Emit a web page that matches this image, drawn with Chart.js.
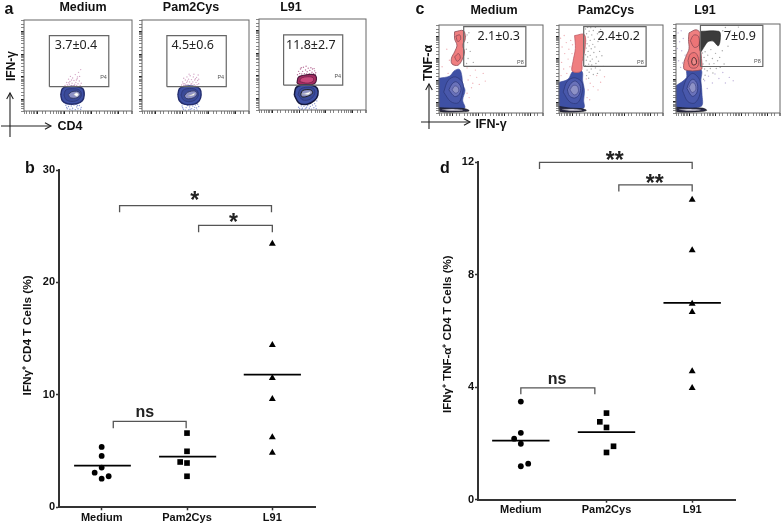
<!DOCTYPE html>
<html>
<head>
<meta charset="utf-8">
<title>IFN-γ and TNF-α CD4 T cells</title>
<script src="https://cdn.jsdelivr.net/npm/chart.js@4/dist/chart.umd.min.js"></script>
<style>
  html, body { margin: 0; padding: 0; background: #fff; }
  body { position: relative; width: 784px; height: 525px; overflow: hidden; font-family: "Liberation Sans", Arial, sans-serif; color: #111; }
  canvas { position: absolute; filter: blur(0.3px); }
  canvas.flow { filter: blur(0.45px); }
  .txt { position: absolute; font-weight: bold; white-space: nowrap; transform: translate(-50%, -50%); }
  .rot { transform: translate(-50%, -50%) rotate(-90deg); }
  svg { position: absolute; left: 0; top: 0; }
</style>
</head>
<body>
<canvas id="flowA1" class="flow" style="left:19px;top:16px" width="117" height="101"></canvas>
<canvas id="flowA2" class="flow" style="left:137px;top:16px" width="116" height="101"></canvas>
<canvas id="flowA3" class="flow" style="left:254px;top:15px" width="116" height="101"></canvas>
<canvas id="flowC1" class="flow" style="left:434px;top:21px" width="113" height="98"></canvas>
<canvas id="flowC2" class="flow" style="left:554px;top:21px" width="113" height="98"></canvas>
<canvas id="flowC3" class="flow" style="left:671px;top:20px" width="113" height="99"></canvas>
<canvas id="chartB" style="left:0;top:150px" width="330" height="375"></canvas>
<canvas id="chartD" style="left:420px;top:140px" width="330" height="385"></canvas>

<svg width="784" height="150">
  <defs>
    <marker id="head" markerWidth="8" markerHeight="8" refX="6" refY="3.5" orient="auto">
      <path d="M0.5,0.5 L6,3.5 L0.5,6.5" fill="none" stroke="#222" stroke-width="1"/>
    </marker>
  </defs>
  <g stroke="#222" stroke-width="1.1" fill="none">
    <line x1="1" y1="126" x2="51" y2="126" marker-end="url(#head)"/>
    <line x1="10" y1="137" x2="10" y2="93" marker-end="url(#head)"/>
    <line x1="421" y1="122" x2="470" y2="122" marker-end="url(#head)"/>
    <line x1="429" y1="129" x2="429" y2="84" marker-end="url(#head)"/>
  </g>
</svg>

<div class="txt" style="left:9px;top:9px;font-size:16px">a</div>
<div class="txt" style="left:30px;top:168px;font-size:16px">b</div>
<div class="txt" style="left:420px;top:9px;font-size:16px">c</div>
<div class="txt" style="left:445px;top:168px;font-size:16px">d</div>

<div class="txt" style="left:83px;top:7px;font-size:12.5px">Medium</div>
<div class="txt" style="left:191px;top:7px;font-size:12.5px">Pam2Cys</div>
<div class="txt" style="left:291px;top:7px;font-size:12.5px">L91</div>
<div class="txt" style="left:494px;top:10px;font-size:12.5px">Medium</div>
<div class="txt" style="left:606px;top:10px;font-size:12.5px">Pam2Cys</div>
<div class="txt" style="left:705px;top:10px;font-size:12.5px">L91</div>

<div class="txt" style="left:70px;top:126px;font-size:12.5px">CD4</div>
<div class="txt rot" style="left:11px;top:66px;font-size:12px">IFN-γ</div>
<div class="txt" style="left:491px;top:124px;font-size:12.5px">IFN-γ</div>
<div class="txt rot" style="left:428px;top:63px;font-size:12.5px">TNF-α</div>

<script>
const FONT = '"Liberation Sans", Arial, sans-serif';

/* ---- dot plots b and d ---- */
const categories = ["Medium", "Pam2Cys", "L91"];
const categoryPos = [1, 2, 3];

const mediumXB = [1, 1, 1, 0.918, 1.082, 1];
const mediumB = [5.37, 4.57, 3.53, 3.08, 2.76, 2.55];
const pamXB = [2, 2, 2, 1.92, 2];
const pamB = [6.6, 4.98, 3.94, 4.03, 2.76];
const l91XB = [3, 3, 3, 3, 3, 3];
const l91B = [23.45, 14.44, 11.5, 9.63, 6.23, 4.86];
const meansB = [3.7, 4.5, 11.8];
const meanSpansB = [[0.677, 1.342], [1.673, 2.342], [2.665, 3.335]];
const bracketsB = [
    { x: [1.21, 1.21, 2.99, 2.99], y: [26.24, 26.83, 26.83, 26.24] },
    { x: [2.136, 2.136, 3, 3], y: [24.46, 25.08, 25.08, 24.46] },
    { x: [1.136, 1.136, 1.99, 1.99], y: [7.03, 7.65, 7.65, 7.03] }
];
const notesB = [
    { text: "*", x: 2.09, y: 27.75, size: 23 },
    { text: "*", x: 2.545, y: 25.75, size: 23 },
    { text: "ns", x: 1.506, y: 8.45, size: 16 }
];

const mediumXD = [1, 1, 0.922, 1, 1.086, 1];
const mediumD = [3.49, 2.38, 2.17, 1.99, 1.28, 1.19];
const pamXD = [2, 1.922, 2, 2.082, 2];
const pamD = [3.08, 2.77, 2.57, 1.9, 1.68];
const l91XD = [3, 3, 3, 3, 3, 3];
const l91D = [10.67, 8.87, 6.97, 6.68, 4.57, 3.97];
const meansD = [2.1, 2.4, 7.0];
const meanSpansD = [[0.665, 1.335], [1.665, 2.335], [2.665, 3.335]];
const bracketsD = [
    { x: [1.218, 1.218, 3, 3], y: [11.76, 12, 12, 11.76] },
    { x: [2.144, 2.144, 3, 3], y: [10.96, 11.2, 11.2, 10.96] },
    { x: [1, 1, 1.864, 1.864], y: [3.75, 3.98, 3.98, 3.75] }
];
const notesD = [
    { text: "**", x: 2.097, y: 12.24, size: 23 },
    { text: "**", x: 2.564, y: 11.42, size: 23 },
    { text: "ns", x: 1.424, y: 4.27, size: 16 }
];

const zip = (xs, ys) => xs.map((x, i) => ({ x: x, y: ys[i] }));

/* draws a text centred by its ink on a data position */
function inkText(chart, note, font, color) {
    const ctx = chart.ctx;
    const px = chart.scales.x.getPixelForValue(note.x);
    const py = chart.scales.y.getPixelForValue(note.y);
    ctx.save();
    ctx.font = font;
    ctx.fillStyle = color;
    ctx.textAlign = note.align || "center";
    ctx.textBaseline = "alphabetic";
    const m = ctx.measureText(note.text);
    ctx.fillText(note.text, px, py + (m.actualBoundingBoxAscent - m.actualBoundingBoxDescent) / 2);
    ctx.restore();
}

function dotChart(id, cfg) {
    const marks = [["circle", 2.9, cfg.medium], ["rect", 4, cfg.pam], ["triangle", 4, cfg.l91]];
    const datasets = marks.map(m => ({
        data: m[2], pointStyle: m[0], pointRadius: m[1], pointBackgroundColor: "#000",
        pointBorderWidth: 0, showLine: false, clip: false
    }));
    cfg.means.forEach((v, i) => datasets.push({
        data: zip(cfg.spans[i], [v, v]), showLine: true, borderColor: "#000", borderWidth: 1.8,
        pointRadius: 0, clip: false
    }));
    cfg.brackets.forEach(b => datasets.push({
        data: zip(b.x, b.y), showLine: true, borderColor: "#555", borderWidth: 1.3,
        pointRadius: 0, clip: false
    }));
    return new Chart(document.getElementById(id), {
        type: "scatter",
        data: { datasets: datasets },
        plugins: [{
            id: "notes",
            afterDatasetsDraw(chart) {
                cfg.notes.forEach(n => inkText(chart, n, "bold " + n.size + "px " + FONT, "#222"));
            }
        }],
        options: {
            responsive: false,
            animation: false,
            layout: { padding: cfg.padding },
            plugins: { legend: { display: false }, tooltip: { enabled: false } },
            scales: {
                x: {
                    type: "linear", min: 0.5, max: 3.5,
                    afterBuildTicks: s => { s.ticks = categoryPos.map(v => ({ value: v })); },
                    afterFit: s => { s.height = cfg.bottom; },
                    ticks: {
                        autoSkip: false, padding: 1, maxRotation: 0, color: "#111",
                        font: { family: FONT, size: 11, weight: "bold" },
                        callback: v => categories[v - 1]
                    },
                    border: { color: "#333", width: 2 },
                    grid: { drawOnChartArea: false, tickLength: 3, tickColor: "#333", tickWidth: 1.5 }
                },
                y: {
                    min: 0, max: cfg.max,
                    afterFit: s => { s.width = cfg.left; },
                    ticks: {
                        stepSize: cfg.step, padding: 1, color: "#111",
                        font: { family: FONT, size: 11, weight: "bold" }
                    },
                    border: { color: "#333", width: 2 },
                    grid: { drawOnChartArea: false, tickLength: 3, tickColor: "#333", tickWidth: 1.5 },
                    title: {
                        display: true, text: cfg.title, color: "#111",
                        padding: { top: 21, bottom: 0 },
                        font: { family: FONT, size: cfg.titleSize, weight: "bold" }
                    }
                }
            }
        }
    });
}

dotChart("chartB", {
    medium: zip(mediumXB, mediumB), pam: zip(pamXB, pamB), l91: zip(l91XB, l91B),
    means: meansB, spans: meanSpansB, brackets: bracketsB, notes: notesB,
    max: 30, step: 10, left: 59, bottom: 17.7,
    padding: { top: 20, right: 15, left: 0, bottom: 0 },
    titleSize: 11.8,
    title: "\u00a0\u00a0IFNγ⁺ CD4 T Cells (%)"
});

dotChart("chartD", {
    medium: zip(mediumXD, mediumD), pam: zip(pamXD, pamD), l91: zip(l91XD, l91D),
    means: meansD, spans: meanSpansD, brackets: bracketsD, notes: notesD,
    max: 12, step: 4, left: 58, bottom: 25.3,
    padding: { top: 22.3, right: 15, left: 0, bottom: 0 },
    titleSize: 11.5,
    title: "IFNγ⁺ TNF-α⁺ CD4 T Cells (%)\u00a0\u00a0"
});

/* ---- flow panels, all outlines and dots in log10 units [x, y] ---- */
const A_PINK = "#d4a6c6", A_BLUE = "#8c9ad6", C_PINK = "#efb4ba", C_GREY = "#a8a8a8", C_LILAC = "#c2b6dc";
const NAVY = "#232d6e", BLUE = "#3e50a4", LILAC = "#8e92c6", RING = "#2f3a7c";
const SALMON = "#ef7f80", SALMON_LINE = "#8c4a55", DARK = "#3b3b3b";

/* a: Medium */
const a1Gate = [[2.44, 2.57], [2.44, 4.81], [4.64, 4.81], [4.64, 2.57], [2.44, 2.57]];
const a1Pink = [[3.02, 2.62], [3.08, 2.75], [3.12, 2.6], [3.15, 2.9], [3.18, 2.68], [3.2, 2.8], [3.22, 3.02], [3.25, 2.62], [3.28, 2.72], [3.3, 2.95], [3.32, 2.6], [3.35, 2.84], [3.38, 2.68], [3.4, 3.1], [3.42, 2.76], [3.45, 2.62], [3.47, 2.92], [3.5, 2.7], [3.52, 3.2], [3.55, 2.82], [3.58, 2.62], [3.6, 3.32], [3.62, 2.72], [3.48, 3.0], [3.1, 2.66], [3.26, 2.86], [3.36, 2.62], [3.44, 2.86], [3.56, 3.02], [3.16, 2.74]];
const a1Blue = [[3.05, 1.75], [3.1, 1.6], [3.15, 1.7], [3.2, 1.58], [3.25, 1.72], [3.3, 1.62], [3.35, 1.76], [3.4, 1.56], [3.45, 1.68], [3.5, 1.6], [3.55, 1.74], [3.6, 1.58], [3.62, 1.66], [3.18, 1.8], [3.42, 1.8], [3.28, 1.54], [3.08, 1.66], [3.48, 1.74]];
const a1Outer = [[2.86, 2.2], [2.92, 2.48], [3.1, 2.57], [3.45, 2.57], [3.68, 2.48], [3.73, 2.2], [3.66, 1.95], [3.45, 1.82], [3.1, 1.82], [2.92, 1.95], [2.86, 2.2]];
const a1Mid = [[2.98, 2.2], [3.05, 2.42], [3.3, 2.48], [3.55, 2.42], [3.63, 2.22], [3.52, 2.0], [3.28, 1.92], [3.06, 2.0], [2.98, 2.2]];
const a1Core = [[3.14, 2.22], [3.26, 2.34], [3.5, 2.36], [3.58, 2.22], [3.46, 2.08], [3.22, 2.08], [3.14, 2.22]];
const a1Eye = [[3.34, 2.22], [3.44, 2.3], [3.52, 2.24], [3.46, 2.14], [3.34, 2.22]];

/* a: Pam2Cys */
const a2Gate = [[2.43, 2.57], [2.43, 4.81], [4.65, 4.81], [4.65, 2.57], [2.43, 2.57]];
const a2Pink = [[2.98, 2.64], [3.02, 2.78], [3.06, 2.62], [3.06, 2.94], [3.1, 2.7], [3.12, 2.86], [3.14, 2.6], [3.17, 2.76], [3.18, 3.0], [3.22, 2.66], [3.24, 2.9], [3.27, 2.58], [3.28, 2.78], [3.3, 3.05], [3.33, 2.68], [3.35, 2.88], [3.38, 2.6], [3.4, 2.78], [3.42, 3.0], [3.45, 2.66], [3.47, 2.86], [3.5, 2.6], [3.52, 2.76], [3.54, 2.98], [3.56, 2.66], [3.58, 2.84], [3.6, 3.08], [3.62, 2.7], [3.04, 2.7], [3.2, 2.82], [3.36, 2.7], [3.44, 3.12], [3.26, 3.12], [3.5, 2.92], [3.14, 2.66], [3.56, 2.58], [3.62, 2.9]];
const a2Blue = [[3.0, 1.72], [3.05, 1.58], [3.1, 1.8], [3.15, 1.65], [3.2, 1.74], [3.24, 1.55], [3.28, 1.68], [3.33, 1.8], [3.36, 1.6], [3.4, 1.72], [3.45, 1.56], [3.5, 1.76], [3.54, 1.63], [3.58, 1.8], [3.62, 1.7], [3.12, 1.54], [3.47, 1.66], [3.02, 1.64], [3.3, 1.58], [3.56, 1.54]];
const a2Outer = [[2.84, 2.2], [2.9, 2.48], [3.08, 2.58], [3.45, 2.58], [3.66, 2.48], [3.71, 2.2], [3.64, 1.95], [3.45, 1.8], [3.08, 1.8], [2.9, 1.95], [2.84, 2.2]];
const a2Mid = [[2.96, 2.2], [3.04, 2.42], [3.28, 2.49], [3.53, 2.43], [3.61, 2.22], [3.5, 2.0], [3.25, 1.91], [3.04, 2.0], [2.96, 2.2]];
const a2Core = [[3.08, 2.16], [3.2, 2.32], [3.48, 2.38], [3.56, 2.24], [3.42, 2.08], [3.18, 2.04], [3.08, 2.16]];
const a2Eye = [[3.22, 2.16], [3.38, 2.24], [3.48, 2.28], [3.42, 2.18], [3.22, 2.16]];

/* a: L91 */
const a3Gate = [[2.42, 2.59], [2.42, 4.8], [4.63, 4.8], [4.63, 2.59], [2.42, 2.59]];
const a3Pink = [[2.94, 3.05], [2.98, 3.2], [3.02, 3.1], [3.05, 3.3], [3.1, 3.08], [3.13, 3.2], [3.16, 3.38], [3.2, 3.1], [3.24, 3.26], [3.28, 3.08], [3.3, 3.18], [3.34, 3.34], [3.38, 3.1], [3.4, 3.24], [3.45, 3.06], [3.48, 3.16], [3.5, 3.3], [3.54, 3.1], [3.58, 3.22], [3.6, 3.06], [3.62, 3.14], [3.08, 3.36], [3.26, 3.42], [3.44, 3.36], [3.56, 3.32]];
const a3Blue = [[2.98, 1.62], [3.02, 1.56], [3.08, 1.68], [3.12, 1.58], [3.18, 1.66], [3.22, 1.54], [3.28, 1.62], [3.32, 1.7], [3.38, 1.58], [3.42, 1.66], [3.46, 1.54], [3.5, 1.72], [3.55, 1.6], [3.58, 1.78], [3.62, 1.68], [3.66, 1.9], [3.64, 1.56], [3.6, 2.0], [3.25, 1.58], [3.1, 1.52]];
const a3PinkOuter = [[2.92, 2.68], [2.98, 2.95], [3.3, 3.05], [3.6, 3.03], [3.63, 2.75], [3.5, 2.62], [3.1, 2.58], [2.92, 2.68]];
const a3PinkInner = [[3.02, 2.75], [3.08, 2.9], [3.32, 2.96], [3.52, 2.92], [3.52, 2.76], [3.3, 2.68], [3.02, 2.75]];
const a3Outer = [[2.82, 2.15], [2.88, 2.48], [3.1, 2.6], [3.5, 2.58], [3.68, 2.45], [3.7, 2.15], [3.58, 1.92], [3.3, 1.75], [3.0, 1.8], [2.82, 2.15]];
const a3Mid = [[2.96, 2.18], [3.05, 2.42], [3.3, 2.5], [3.54, 2.44], [3.58, 2.22], [3.42, 1.98], [3.14, 1.94], [2.96, 2.18]];
const a3Core = [[3.06, 2.2], [3.14, 2.36], [3.44, 2.38], [3.5, 2.24], [3.3, 2.1], [3.1, 2.08], [3.06, 2.2]];
const a3Eye = [[3.1, 2.2], [3.3, 2.26], [3.42, 2.3], [3.36, 2.18], [3.1, 2.2]];

/* c: Medium */
const c1Gate = [[2.45, 3.62], [2.45, 5.43], [4.84, 5.43], [4.84, 3.62], [2.45, 3.62]];
const c1Pink = [[1.62, 3.6], [1.8, 4.4], [1.9, 3.9], [1.85, 3.3], [2.58, 3.55], [2.7, 3.2], [2.62, 3.0], [2.8, 2.85], [2.95, 3.12], [3.05, 2.8], [3.2, 3.3], [2.75, 2.65], [2.58, 2.4], [2.66, 2.2], [3.28, 2.95], [2.9, 3.45]];
const c1Grey = [[2.52, 4.98], [2.58, 5.05], [2.6, 4.7], [2.55, 4.4], [2.62, 3.98], [2.7, 4.3], [2.82, 3.8], [2.56, 3.75], [2.65, 5.15]];
const c1Body = [[2.1, 5.19], [2.44, 5.24], [2.51, 4.87], [2.41, 4.58], [2.48, 4.28], [2.39, 3.92], [2.23, 3.67], [2.0, 3.73], [1.98, 3.99], [2.1, 4.28], [2.19, 4.58], [2.1, 4.87], [2.1, 5.19]];
const c1Knot1 = [[2.15, 5.0], [2.3, 5.05], [2.33, 4.85], [2.22, 4.75], [2.15, 5.0]];
const c1Knot2 = [[2.1, 4.05], [2.25, 4.2], [2.32, 4.0], [2.2, 3.85], [2.1, 4.05]];
const c1Blue = [[1.5, 3.08], [1.91, 3.18], [2.1, 3.43], [2.29, 3.48], [2.38, 3.18], [2.41, 2.82], [2.5, 2.53], [2.41, 2.09], [2.48, 1.72], [1.5, 1.72], [1.5, 3.08]];
const c1Ring1 = [[1.68, 2.45], [1.85, 2.98], [2.14, 3.14], [2.42, 2.85], [2.38, 2.3], [2.24, 1.96], [1.95, 2.02], [1.68, 2.45]];
const c1Ring2 = [[1.88, 2.55], [2.0, 2.82], [2.16, 2.92], [2.34, 2.68], [2.28, 2.35], [2.1, 2.25], [1.88, 2.55]];
const c1Core = [[2.0, 2.55], [2.1, 2.72], [2.22, 2.68], [2.26, 2.5], [2.14, 2.4], [2.0, 2.55]];
const c1Strip = [[1.5, 1.74], [1.91, 1.72], [2.48, 1.7], [2.66, 1.6], [2.41, 1.56], [1.54, 1.56], [1.5, 1.74]];
const c1StripIn = [[1.62, 1.65], [2.0, 1.68], [2.42, 1.63], [2.0, 1.6], [1.62, 1.65]];

/* c: Pam2Cys */
const c2Gate = [[2.45, 3.62], [2.45, 5.43], [4.85, 5.43], [4.85, 3.62], [2.45, 3.62]];
const c2Pink = [[1.56, 4.9], [1.62, 4.5], [1.7, 5.02], [1.72, 4.2], [1.78, 4.7], [1.85, 3.95], [1.88, 4.4], [1.95, 4.8], [1.6, 3.8], [1.68, 3.5], [1.8, 3.3], [1.92, 3.6], [2.0, 4.2], [2.02, 4.6], [1.58, 3.2], [2.55, 3.05], [2.7, 2.85], [2.62, 2.55], [2.82, 2.7], [2.95, 3.2], [3.1, 2.9], [3.25, 3.15], [2.58, 2.2], [2.68, 2.1], [3.0, 2.55]];
const c2Grey = [[2.52, 5.32], [2.56, 5.1], [2.6, 5.4], [2.62, 4.95], [2.66, 5.22], [2.7, 4.8], [2.72, 5.38], [2.76, 5.05], [2.8, 4.62], [2.82, 5.25], [2.86, 4.85], [2.9, 5.4], [2.52, 4.78], [2.55, 4.45], [2.58, 4.65], [2.62, 4.3], [2.66, 4.55], [2.7, 4.12], [2.74, 4.42], [2.78, 3.95], [2.84, 4.25], [2.88, 4.5], [2.94, 4.05], [3.0, 4.75], [3.02, 3.85], [3.06, 4.3], [3.14, 4.95], [2.52, 4.15], [2.55, 3.9], [2.6, 4.05], [2.64, 3.72], [2.7, 3.85], [2.76, 3.68], [2.52, 3.65], [2.58, 3.45], [2.66, 3.35], [2.74, 3.5], [2.82, 3.25], [2.9, 3.55], [2.98, 3.3], [3.08, 3.45], [3.2, 3.62], [2.98, 5.1], [3.1, 5.3], [2.92, 3.75], [3.15, 4.1], [2.56, 3.2], [2.64, 3.08]];
const c2Body = [[2.1, 5.02], [2.48, 5.06], [2.5, 4.43], [2.39, 3.84], [2.35, 3.4], [2.01, 3.4], [2.04, 3.84], [2.13, 4.43], [2.1, 5.02]];
const c2Blue = [[1.5, 2.89], [1.85, 3.04], [2.04, 3.4], [2.38, 3.4], [2.41, 2.97], [2.48, 2.53], [2.45, 2.09], [2.44, 1.72], [1.5, 1.72], [1.5, 2.89]];
const c2Ring1 = [[1.66, 2.45], [1.82, 2.95], [2.12, 3.1], [2.4, 2.85], [2.36, 2.3], [2.2, 1.95], [1.92, 2.0], [1.66, 2.45]];
const c2Ring2 = [[1.82, 2.55], [1.96, 2.85], [2.14, 2.95], [2.32, 2.7], [2.28, 2.35], [2.1, 2.18], [1.9, 2.28], [1.82, 2.55]];
const c2Core = [[1.92, 2.55], [2.04, 2.75], [2.2, 2.72], [2.24, 2.45], [2.08, 2.32], [1.92, 2.55]];
const c2Strip = [[1.5, 1.8], [1.95, 1.72], [2.35, 1.7], [2.55, 1.62], [2.35, 1.56], [1.54, 1.56], [1.5, 1.8]];
const c2StripIn = [[1.62, 1.66], [2.0, 1.68], [2.38, 1.63], [2.0, 1.6], [1.62, 1.66]];

/* c: L91 */
const c3Gate = [[2.44, 3.59], [2.44, 5.44], [4.84, 5.44], [4.84, 3.59], [2.44, 3.59]];
const c3Pink = [[1.58, 5.1], [1.64, 4.7], [1.7, 5.2], [1.72, 4.3], [1.78, 4.85], [1.85, 4.1], [1.6, 3.85], [1.68, 3.55], [1.75, 3.75], [1.55, 4.4], [2.6, 2.95], [2.75, 3.15], [2.9, 2.85], [3.0, 3.25], [3.15, 3.05], [3.3, 3.32], [2.7, 2.6], [3.4, 2.85], [3.55, 3.1], [3.7, 2.95]];
const c3Grey = [[2.52, 4.2], [2.58, 4.0], [2.62, 4.25], [2.66, 3.85], [2.72, 4.1], [2.78, 3.7], [2.84, 4.35], [2.9, 3.95], [2.96, 3.72], [3.02, 4.18], [3.1, 3.85], [3.18, 4.0], [2.54, 3.7], [2.6, 3.48], [2.7, 3.4], [2.82, 3.5], [2.92, 3.3], [3.05, 3.5], [3.2, 3.55], [3.35, 3.7], [3.28, 4.3], [3.3, 5.2], [3.4, 5.34], [3.6, 5.2], [3.9, 5.36], [3.5, 4.5], [2.62, 3.2], [2.56, 3.02]];
const c3Body = [[2.0, 5.1], [2.28, 5.24], [2.46, 5.03], [2.46, 4.23], [2.5, 3.66], [2.46, 3.44], [1.84, 3.44], [1.8, 3.73], [1.9, 4.09], [2.0, 4.38], [1.98, 4.81], [2.0, 5.1]];
const c3Knot1 = [[2.05, 4.75], [2.18, 5.0], [2.36, 4.95], [2.38, 4.55], [2.2, 4.45], [2.05, 4.75]];
const c3Knot2 = [[1.96, 3.85], [2.05, 4.15], [2.25, 4.2], [2.38, 3.85], [2.3, 3.55], [2.05, 3.55], [1.96, 3.85]];
const c3Knot3 = [[2.1, 3.8], [2.15, 3.98], [2.25, 3.95], [2.28, 3.72], [2.15, 3.66], [2.1, 3.8]];
const c3Block = [[2.44, 5.17], [3.15, 5.17], [3.21, 4.95], [3.13, 4.52], [2.94, 4.72], [2.84, 4.74], [2.71, 4.69], [2.44, 4.26], [2.44, 5.17]];
const c3Blue = [[1.5, 2.72], [1.9, 3.08], [1.93, 3.44], [2.46, 3.44], [2.46, 2.94], [2.5, 2.36], [2.46, 1.79], [1.5, 1.79], [1.5, 2.72]];
const c3Ring1 = [[1.75, 2.5], [1.9, 3.02], [2.15, 3.28], [2.42, 2.95], [2.42, 2.35], [2.22, 1.95], [1.95, 2.02], [1.75, 2.5]];
const c3Ring2 = [[1.92, 2.6], [2.02, 2.9], [2.16, 3.02], [2.32, 2.8], [2.3, 2.4], [2.12, 2.25], [1.92, 2.6]];
const c3Core = [[2.0, 2.65], [2.1, 2.85], [2.22, 2.82], [2.26, 2.55], [2.12, 2.42], [2.0, 2.65]];
const c3Strip = [[1.5, 1.76], [2.0, 1.72], [2.52, 1.72], [2.68, 1.62], [2.4, 1.56], [1.52, 1.56], [1.5, 1.76]];
const c3StripIn = [[1.62, 1.66], [2.0, 1.68], [2.45, 1.64], [2.0, 1.6], [1.62, 1.66]];

const toData = arr => arr.map(p => ({ x: Math.pow(10, p[0]), y: Math.pow(10, p[1]) }));
const gateDs = g => ({ data: toData(g), showLine: true, borderColor: "#666", borderWidth: 1.2, pointRadius: 0, clip: false });
const dotsDs = (d, c) => ({ data: toData(d), showLine: false, pointRadius: 0.7, pointBorderWidth: 0, pointBackgroundColor: c });
const blobDs = (d, fill, line, w) => ({
    data: toData(d), showLine: true, fill: "shape", tension: 0.35, backgroundColor: fill,
    borderColor: line, borderWidth: w === undefined ? 1 : w, pointRadius: 0, clip: false
});

function flowChart(id, cfg) {
    /* listed bottom to top, Chart.js paints higher order first */
    const datasets = cfg.layers.map((d, i) => Object.assign(d, { order: cfg.layers.length - i }));
    const axis = {
        type: "logarithmic", min: Math.pow(10, 1.5), max: Math.pow(10, 5.5),
        ticks: { display: false, autoSkip: false },
        border: { display: false },
        grid: {
            drawOnChartArea: false, tickLength: 3, tickWidth: 1,
            tickColor: ctx => (ctx.tick && ctx.tick.major ? "#222" : "#888")
        }
    };
    return new Chart(document.getElementById(id), {
        type: "scatter",
        data: { datasets: datasets },
        plugins: [{
            id: "frame",
            afterDatasetsDraw(chart) {
                const a = chart.chartArea, ctx = chart.ctx;
                ctx.save();
                ctx.strokeStyle = "#666";
                ctx.lineWidth = 1;
                ctx.strokeRect(a.left, a.top, a.right - a.left, a.bottom - a.top);
                ctx.restore();
                inkText(chart, { text: cfg.value, x: Math.pow(10, cfg.valuePos[0]), y: Math.pow(10, cfg.valuePos[1]), align: "left" }, '12.5px "Noto Sans"', "#222");
                inkText(chart, { text: cfg.gate, x: Math.pow(10, cfg.gatePos[0]), y: Math.pow(10, cfg.gatePos[1]), align: "right" }, "5.5px " + FONT, "#555");
            }
        }],
        options: {
            responsive: false,
            animation: false,
            layout: { padding: { top: 1, right: 1, left: 0, bottom: 0 } },
            plugins: { legend: { display: false }, tooltip: { enabled: false } },
            scales: {
                x: Object.assign({ afterFit: s => { s.height = 6; } }, axis),
                y: Object.assign({ afterFit: s => { s.width = 5; } }, axis)
            }
        }
    });
}

flowChart("flowA1", {
    value: "3.7±0.4", valuePos: [2.64, 4.41], gate: "P4", gatePos: [4.57, 2.99],
    layers: [dotsDs(a1Pink, A_PINK), dotsDs(a1Blue, A_BLUE), blobDs(a1Outer, BLUE, NAVY, 1.4), blobDs(a1Mid, "#3a4a98", RING), blobDs(a1Core, LILAC, "#333a66"), blobDs(a1Eye, "#fff", "#aaa", 0.5), gateDs(a1Gate)]
});
flowChart("flowA2", {
    value: "4.5±0.6", valuePos: [2.6, 4.41], gate: "P4", gatePos: [4.57, 2.99],
    layers: [dotsDs(a2Pink, A_PINK), dotsDs(a2Blue, A_BLUE), blobDs(a2Outer, BLUE, NAVY, 1.4), blobDs(a2Mid, "#3a4a98", RING), blobDs(a2Core, LILAC, "#333a66"), blobDs(a2Eye, "#fff", "#aaa", 0.5), gateDs(a2Gate)]
});
flowChart("flowA3", {
    value: "11.8±2.7", valuePos: [2.51, 4.37], gate: "P4", gatePos: [4.57, 2.99],
    layers: [dotsDs(a3Pink, "#b86f98"), dotsDs(a3Blue, A_BLUE), blobDs(a3PinkOuter, "#a62c62", "#4d1a3c", 1.2), blobDs(a3PinkInner, "#c9487c", "#6d2049", 0.8), blobDs(a3Outer, BLUE, "#15193f", 1.5), blobDs(a3Mid, "#3a4a98", RING), blobDs(a3Core, LILAC, "#222"), blobDs(a3Eye, "#fff", "#aaa", 0.5), gateDs(a3Gate)]
});
flowChart("flowC1", {
    value: "2.1±0.3", valuePos: [2.98, 5.02], gate: "P8", gatePos: [4.76, 3.84],
    layers: [dotsDs(c1Pink, C_PINK), dotsDs(c1Grey, C_GREY), blobDs(c1Blue, BLUE, "#3a4a98", 0.6), blobDs(c1Ring1, "#4958ab", "#2f3a7c", 0.8), blobDs(c1Ring2, "#6a72ba", "#2f3a7c", 0.8), blobDs(c1Core, LILAC, "#3a3f80", 0.6), blobDs(c1Body, SALMON, SALMON_LINE, 0.8), blobDs(c1Knot1, "#ec7476", SALMON_LINE, 0.8), blobDs(c1Knot2, "#ec7476", SALMON_LINE, 0.8), blobDs(c1Strip, "#2a2a45", "#111", 0.6), blobDs(c1StripIn, "#d6d2e2", "#888", 0.3), gateDs(c1Gate)]
});
flowChart("flowC2", {
    value: "2.4±0.2", valuePos: [2.98, 5.02], gate: "P8", gatePos: [4.76, 3.84],
    layers: [dotsDs(c2Pink, C_PINK), dotsDs(c2Grey, C_GREY), blobDs(c2Blue, BLUE, "#3a4a98", 0.6), blobDs(c2Ring1, "#4958ab", "#2f3a7c", 0.8), blobDs(c2Ring2, "#6a72ba", "#2f3a7c", 0.8), blobDs(c2Core, LILAC, "#3a3f80", 0.6), blobDs(c2Body, SALMON, "#c05a66", 0.8), blobDs(c2Strip, "#2a2a45", "#111", 0.6), blobDs(c2StripIn, "#d6d2e2", "#888", 0.3), gateDs(c2Gate)]
});
flowChart("flowC3", {
    value: "7±0.9", valuePos: [3.34, 4.98], gate: "P8", gatePos: [4.76, 3.84],
    layers: [dotsDs(c3Pink, C_LILAC), dotsDs(c3Grey, C_GREY), blobDs(c3Blue, BLUE, "#3a4a98", 0.6), blobDs(c3Ring1, "#4958ab", "#2f3a7c", 0.8), blobDs(c3Ring2, "#6a72ba", "#2f3a7c", 0.8), blobDs(c3Core, LILAC, "#3a3f80", 0.6), blobDs(c3Body, SALMON, SALMON_LINE, 0.8), blobDs(c3Knot1, "#ec7476", SALMON_LINE, 0.8), blobDs(c3Knot2, "#ec7476", SALMON_LINE, 0.8), blobDs(c3Knot3, "#ef8a88", "#4a2a30", 1), blobDs(c3Block, DARK, "#222", 0.6), blobDs(c3Strip, "#2a2a45", "#111", 0.6), blobDs(c3StripIn, "#d6d2e2", "#888", 0.3), gateDs(c3Gate)]
});
</script>
</body>
</html>
